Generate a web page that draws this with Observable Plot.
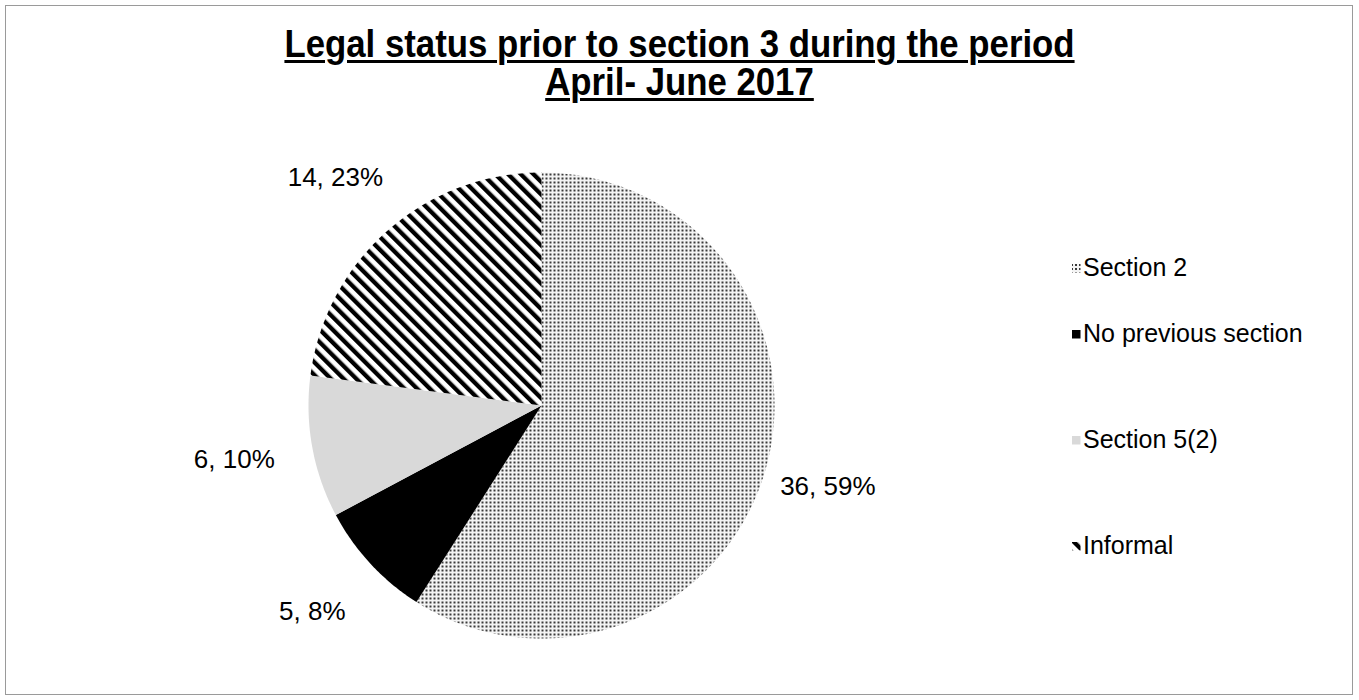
<!DOCTYPE html>
<html>
<head>
<meta charset="utf-8">
<script src="https://cdn.jsdelivr.net/npm/d3@7"></script>
<script src="https://cdn.jsdelivr.net/npm/@observablehq/plot@0.6"></script>
<style>
  html, body { margin: 0; padding: 0; background: #fff; }
  #wrap { position: relative; width: 1359px; height: 700px; overflow: hidden; font-family: "Liberation Sans", Arial, sans-serif; }
  #frame { position: absolute; left: 5px; top: 5px; width: 1348px; height: 690px; border: 1.5px solid #9a9a9a; box-sizing: border-box; }
  #title { position: absolute; left: 0; width: 1359px; top: 25px; text-align: center; font-family: "Liberation Sans Narrow", "Arial Narrow", "Liberation Sans", sans-serif; font-weight: bold; font-size: 38px; line-height: 38px; color: #000; transform: scaleX(0.915); transform-origin: 679.5px 0; }
  #title span { text-decoration: underline; text-decoration-thickness: 2.5px; text-underline-offset: 3px; }
  #chart { position: absolute; left: 0; top: 0; }
  #legend { position: absolute; left: 1070px; top: 0; font-size: 25px; color: #000; }
  .item { position: absolute; left: 0; white-space: nowrap; display: flex; align-items: center; }
</style>
</head>
<body>
<div id="wrap">
  <div id="frame"></div>
  <div id="chart"></div>
  <div id="title"><span>Legal status prior to section 3 during the period</span><br><span>April- June 2017</span></div>
  <div id="legend"></div>
</div>
<script>
const categories = ["Section 2", "No previous section", "Section 5(2)", "Informal"];
const counts = [36, 5, 6, 14];
const percentLabels = ["59%", "8%", "10%", "23%"];
const fills = ["url(#dots)", "#000000", "#d9d9d9", "url(#stripes)"];

const pie = d3.pie().sort(null).value(d => d.count)
  (categories.map((c, i) => ({category: c, count: counts[i], pct: percentLabels[i], fill: fills[i]})));

// polygon points for each slice (angles clockwise from 12 o'clock)
const pts = [];
pie.forEach((s, i) => {
  pts.push({slice: i, x: 0, y: 0});
  const n = Math.max(4, Math.ceil((s.endAngle - s.startAngle) / 0.01));
  for (let k = 0; k <= n; k++) {
    const a = s.startAngle + (s.endAngle - s.startAngle) * k / n;
    pts.push({slice: i, x: Math.sin(a), y: Math.cos(a)});
  }
  pts.push({slice: i, x: 0, y: 0});
});

const labels = pie.map(s => {
  const a = (s.startAngle + s.endAngle) / 2;
  const k = Math.sin(a) < 0 ? 1.34 : 1.28;
  return {x: Math.sin(a) * k, y: Math.cos(a) * k * 0.97, text: `${s.data.count}, ${s.data.pct}`};
});

const cx = 541, cy = 405, R = 233;
const plot = Plot.plot({
  width: 1359, height: 700,
  margin: 0,
  x: {domain: [-1, 1], range: [cx - R, cx + R], axis: null},
  y: {domain: [-1, 1], range: [cy + R, cy - R], axis: null},
  marks: [
    ...pie.map((s, i) => Plot.line(pts.filter(p => p.slice === i), {x: "x", y: "y", fill: s.data.fill, stroke: "none", curve: "linear-closed"})),
    Plot.text(labels, {x: "x", y: "y", text: "text", fontSize: 26, fill: "#000", fontFamily: "Liberation Sans, Arial, sans-serif"})
  ]
});

// pattern definitions
const svg = d3.select(plot);
const defs = svg.insert("defs", ":first-child");
const dots = defs.append("pattern").attr("id", "dots").attr("patternUnits", "userSpaceOnUse").attr("width", 4).attr("height", 4);
dots.append("rect").attr("width", 4).attr("height", 4).attr("fill", "#f4f4f4");
dots.append("rect").attr("x", 1).attr("y", 1).attr("width", 2).attr("height", 2).attr("fill", "#3a3a3a");
const P = 9;
const stripes = defs.append("pattern").attr("id", "stripes").attr("patternUnits", "userSpaceOnUse")
  .attr("width", P).attr("height", P).attr("patternTransform", "rotate(-45)");
stripes.append("rect").attr("width", P).attr("height", P).attr("fill", "#ffffff");
stripes.append("rect").attr("width", P * 0.48).attr("height", P).attr("fill", "#000000");

document.getElementById("chart").appendChild(plot);

// legend
const legendY = [267, 333, 439, 545];
const legend = document.getElementById("legend");
categories.forEach((c, i) => {
  const it = document.createElement("div");
  it.className = "item";
  it.style.top = (legendY[i] - 14) + "px";
  const sw = document.createElementNS("http://www.w3.org/2000/svg", "svg");
  sw.setAttribute("width", 12); sw.setAttribute("height", 10);
  sw.style.marginRight = "1px";
  const r = document.createElementNS("http://www.w3.org/2000/svg", "rect");
  r.setAttribute("x", 2); r.setAttribute("y", 1); r.setAttribute("width", 8.5); r.setAttribute("height", 8.5);
  r.setAttribute("fill", fills[i]);
  sw.appendChild(r);
  it.appendChild(sw);
  const t = document.createElement("span");
  t.textContent = c;
  it.appendChild(t);
  legend.appendChild(it);
});
</script>
</body>
</html>
